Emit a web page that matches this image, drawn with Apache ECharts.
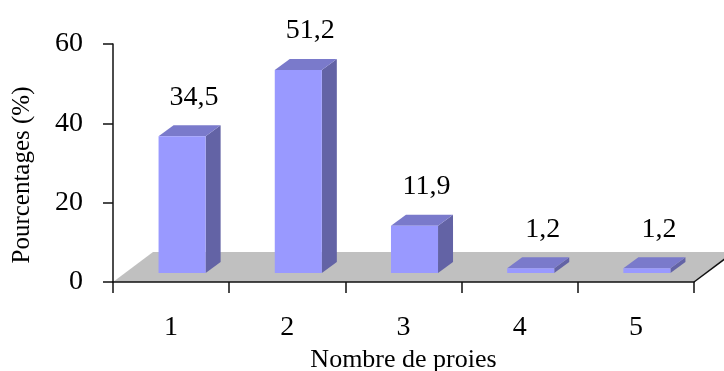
<!DOCTYPE html>
<html>
<head>
<meta charset="utf-8">
<script src="https://cdn.jsdelivr.net/npm/echarts@6/dist/echarts.min.js"></script>
<style>
  html, body { margin: 0; padding: 0; background: #fff; }
  #chart { width: 724px; height: 371px; }
</style>
</head>
<body>
<div id="chart"></div>
<script>
// Number of prey per item and share of each count (%)
const categories = ['1', '2', '3', '4', '5'];
const percentages = [34.5, 51.2, 11.9, 1.2, 1.2];
const yTicks = [0, 20, 40, 60];

const FONT = '"Liberation Serif", "Times New Roman", serif';

// Pseudo-3D geometry (pixels)
const FLOOR_DX = 40, FLOOR_DY = -30;     // depth of the grey floor
const BAR_SHIFT_X = 11, BAR_SHIFT_Y = -9; // front faces sit a bit behind the axis line
const BAR_DX = 15, BAR_DY = -11;         // depth of each block
const BAR_RATIO = 0.405;                 // front face width / category width

const FRONT = '#9999ff', TOP = '#7a7acb', SIDE = '#6363a5';

const fmt = v => String(v).replace('.', ',');

function renderFloor(params, api) {
  const cs = params.coordSys;
  const x0 = cs.x, x1 = cs.x + cs.width, y = cs.y + cs.height;
  return {
    type: 'group',
    children: [
      {
        type: 'polygon',
        shape: { points: [[x0, y], [x1, y], [x1 + FLOOR_DX, y + FLOOR_DY], [x0 + FLOOR_DX, y + FLOOR_DY]] },
        style: { fill: '#c0c0c0' }
      },
      {
        type: 'line',
        shape: { x1: x1, y1: y, x2: x1 + FLOOR_DX, y2: y + FLOOR_DY },
        style: { stroke: '#111', lineWidth: 1.5 }
      }
    ]
  };
}

function renderBar(params, api) {
  const i = api.value(0), v = api.value(1);
  const base = api.coord([i, 0]);
  const top = api.coord([i, v]);
  const w = api.size([1, 0])[0] * BAR_RATIO;
  const xl = base[0] - w / 2 + BAR_SHIFT_X, xr = xl + w;
  const yb = base[1] + BAR_SHIFT_Y, yt = top[1] + BAR_SHIFT_Y;
  return {
    type: 'group',
    children: [
      {
        type: 'polygon',
        shape: { points: [[xr, yt], [xr + BAR_DX, yt + BAR_DY], [xr + BAR_DX, yb + BAR_DY], [xr, yb]] },
        style: { fill: SIDE }
      },
      {
        type: 'polygon',
        shape: { points: [[xl, yt], [xr, yt], [xr + BAR_DX, yt + BAR_DY], [xl + BAR_DX, yt + BAR_DY]] },
        style: { fill: TOP }
      },
      {
        type: 'rect',
        shape: { x: xl, y: yt, width: w, height: yb - yt },
        style: { fill: FRONT }
      },
      {
        type: 'text',
        x: xl + w / 2 + 12,
        y: yt - 39,
        style: {
          text: fmt(v),
          fill: '#000',
          font: '28px ' + FONT,
          align: 'center',
          verticalAlign: 'middle'
        }
      }
    ]
  };
}

const chart = echarts.init(document.getElementById('chart'));
chart.setOption({
  animation: false,
  backgroundColor: '#fff',
  grid: { left: 113, right: 30, top: 44, bottom: 89, containLabel: false, outerBoundsMode: 'none' },
  xAxis: {
    type: 'category',
    data: categories,
    z: 5,
    name: 'Nombre de proies',
    nameLocation: 'middle',
    nameGap: 58,
    nameTextStyle: { fontFamily: FONT, fontSize: 26, color: '#000' },
    axisLine: { lineStyle: { color: '#111', width: 1.5 } },
    axisTick: { show: true, length: 11, lineStyle: { color: '#111', width: 1.5 } },
    axisLabel: { margin: 32, fontFamily: FONT, fontSize: 28, color: '#000' },
    splitLine: { show: false }
  },
  yAxis: {
    type: 'value',
    min: yTicks[0],
    max: yTicks[yTicks.length - 1],
    interval: yTicks[1] - yTicks[0],
    z: 5,
    name: 'Pourcentages (%)',
    nameLocation: 'middle',
    nameGap: 78,
    nameRotate: 90,
    nameTextStyle: { fontFamily: FONT, fontSize: 25, color: '#000', padding: [0, 24, 0, 0] },
    axisLine: { show: true, lineStyle: { color: '#111', width: 1.5 } },
    axisTick: { show: true, length: 10, lineStyle: { color: '#111', width: 1.5 } },
    axisLabel: { margin: 30, fontFamily: FONT, fontSize: 28, color: '#000' },
    splitLine: { show: false }
  },
  series: [
    {
      type: 'custom',
      name: 'floor',
      z: 1,
      silent: true,
      data: [0],
      renderItem: renderFloor,
      clip: false
    },
    {
      type: 'custom',
      name: 'Pourcentages',
      z: 2,
      data: percentages.map((v, i) => [i, v]),
      encode: { x: 0, y: 1 },
      renderItem: renderBar,
      clip: false
    }
  ]
});
</script>
</body>
</html>
